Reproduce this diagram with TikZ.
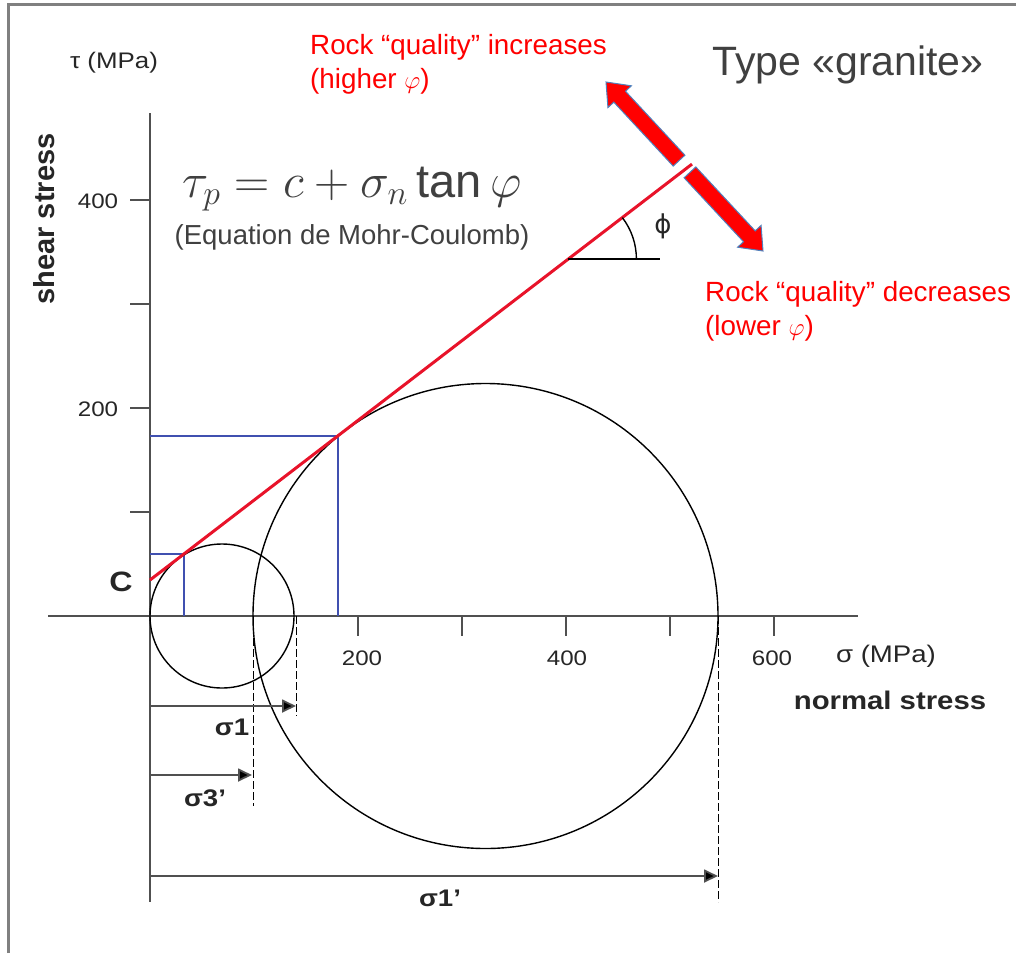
\documentclass[tikz,border=0pt]{standalone}
\usepackage{fontspec}
\usepackage{graphicx}
\setmainfont{Liberation Sans}
\newfontfamily\plotfont[FakeStretch=1.15]{Liberation Sans}
\newfontfamily\phifont{DejaVu Sans}
\usetikzlibrary{arrows.meta,calc}
\definecolor{axisgray}{HTML}{505050}
\definecolor{framegray}{HTML}{808080}
\definecolor{txtgray}{HTML}{404040}
\definecolor{plottxt}{HTML}{262626}
\definecolor{mcred}{HTML}{E8132A}
\definecolor{rectblue}{HTML}{4050B0}
\definecolor{arrowblue}{HTML}{4F81BD}
\begin{document}
\begin{tikzpicture}[x=1pt,y=-1pt,
  frameline/.style={draw=framegray, line width=3pt},
  axisline/.style={draw=axisgray, line width=2pt},
  tickline/.style={draw=axisgray, line width=1.6pt},
  circline/.style={draw=black, line width=1.4pt},
  rectline/.style={draw=rectblue, line width=1.3pt},
  mcline/.style={draw=mcred, line width=3pt},
  dashline/.style={draw=black, line width=1pt, dash pattern=on 8pt off 3pt},
  dimarrow/.style={draw=axisgray, line width=1.8pt, -{Triangle[length=14pt,width=13pt,fill=black]}},
  bigarrow/.style={fill=red, draw=arrowblue, line width=1pt, line join=miter},
  numlab/.style={font=\plotfont\fontsize{21}{24}\selectfont, text=plottxt, inner sep=0pt},
  boldlab/.style={font=\plotfont\bfseries\fontsize{24}{28}\selectfont, text=plottxt, inner sep=0pt},
  redtxt/.style={font=\fontsize{27.8}{30}\selectfont, text=red, inner sep=0pt, anchor=base west},
]
\useasboundingbox (0,0) rectangle (1016,953);
% frame
\draw[frameline] (8,953) -- (8,4) -- (1016,4);

% axes
\coordinate (yTop) at (150,113);
\coordinate (yBot) at (150,902);
\coordinate (xL) at (48,616);
\coordinate (xR) at (858,616);
\coordinate (O) at (150,616);
\draw[axisline] (yTop) -- (yBot);
\draw[axisline] (xL) -- (xR);

% ticks
\foreach \yy in {200,304,408,512} \draw[tickline] (130,\yy) -- (150,\yy);
\foreach \xx in {358,462,566,670,774} \draw[tickline] (\xx,616) -- (\xx,636);

% tick labels
\node[numlab] (l400y) at (98,201) {400};
\node[numlab] (l200y) at (98,409) {200};
\node[numlab] (l200x) at (362,658) {200};
\node[numlab] (l400x) at (567,658) {400};
\node[numlab] (l600x) at (772,658) {600};
\node[numlab, font=\plotfont\fontsize{22.5}{24}\selectfont] (taulab) at (114,63) {τ (MPa)};
\node[numlab, font=\plotfont\fontsize{24}{26}\selectfont] (siglab) at (886,656) {σ (MPa)};
\node[font=\bfseries\fontsize{29}{30}\selectfont, text=plottxt, rotate=90, inner sep=0pt] (shear) at (44,219) {shear stress};
\node[boldlab, font=\plotfont\bfseries\fontsize{25.5}{28}\selectfont] (normal) at (890,700) {normal stress};
\node[font=\plotfont\bfseries\fontsize{28}{30}\selectfont, text=plottxt, inner sep=0pt] (clab) at (121,582) {C};

% blue rectangles
\draw[rectline] (150,554) -| (184,616);
\draw[rectline] (150,436) -| (338,616);

% Mohr circles
\draw[circline] (222,616) circle[radius=72pt];
\draw[circline] (485.5,616) circle[radius=232.5pt];

% Mohr-Coulomb line
\coordinate (r0) at (150,580);
\coordinate (r1) at (692,164.1);
\draw[mcline] (r0) -- (r1);

% friction angle
\coordinate (phiC) at (568.4,259);
\coordinate (phiE) at (660,259);
\draw[line width=1.4pt] (phiC) -- (phiE);
\draw[line width=1.4pt] (636.4,259) arc[start angle=0, end angle=37.5, radius=68pt];
\node[font=\phifont\fontsize{26}{28}\selectfont, text=plottxt, inner sep=0pt] (philab) at (663,226) {ϕ};

% equation
\node[text=txtgray, inner sep=0pt] (eq) at (352,189) {\scalebox{2.35}{\fontsize{20}{24}\selectfont $\tau_p = c + \sigma_n \tan\varphi$}};
\node[text=txtgray, font=\fontsize{27.5}{30}\selectfont, inner sep=0pt] (eqname) at (352,237) {(Equation de Mohr-Coulomb)};

% red texts
\node[redtxt] (inc1) at (310,54) {Rock “quality” increases};
\node[redtxt] (inc2) at (310,88) {(higher $\varphi$)};
\node[redtxt] (dec1) at (705,301) {Rock “quality” decreases};
\node[redtxt] (dec2) at (705,335) {(lower $\varphi$)};
\node[text=txtgray, font=\fontsize{41}{44}\selectfont, inner sep=0pt, anchor=base west] (granite) at (712,75) {Type «granite»};

% big double arrow (two pieces)
\draw[bigarrow] (606,82) -- (631.37,85.80) -- (625.51,91.25) -- (684.92,155.20) -- (673.20,166.08) -- (613.79,102.13) -- (607.93,107.58) -- cycle;
\draw[bigarrow] (695.80,166.92) -- (755.21,230.87) -- (761.07,225.42) -- (763,251) -- (737.63,247.20) -- (743.49,241.75) -- (684.08,177.80) -- cycle;

% dashed guides
\coordinate (d1t) at (296,616); \coordinate (d1b) at (296,716);
\coordinate (d3t) at (253,616); \coordinate (d3b) at (253,806);
\coordinate (d2t) at (718,616); \coordinate (d2b) at (718,902);
\draw[dashline] (d1t) -- (d1b);
\draw[dashline] (d3t) -- (d3b);
\draw[dashline] (d2t) -- (d2b);

% dimension arrows
\coordinate (a1s) at (150,706); \coordinate (a1e) at (296,706);
\coordinate (a3s) at (150,775); \coordinate (a3e) at (252,775);
\coordinate (a2s) at (150,876); \coordinate (a2e) at (718,876);
\draw[dimarrow] (a1s) -- (a1e);
\draw[dimarrow] (a3s) -- (a3e);
\draw[dimarrow] (a2s) -- (a2e);
\node[boldlab] (s1) at (232,727) {σ1};
\node[boldlab] (s3p) at (205,798) {σ3’};
\node[boldlab] (s1p) at (440,898) {σ1’};
\end{tikzpicture}
\end{document}
